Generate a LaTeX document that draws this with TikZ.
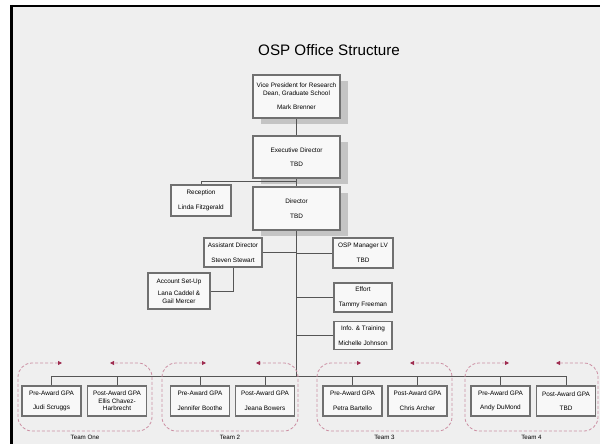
\documentclass[tikz,border=0pt]{standalone}
\usepackage{fontspec}
\newfontfamily\arialf{Liberation Sans}
\usetikzlibrary{arrows.meta,shadows}
\definecolor{bggray}{HTML}{EFEFEF}
\definecolor{boxborder}{HTML}{707070}
\definecolor{boxfill}{HTML}{F8F8F8}
\definecolor{linecol}{HTML}{555555}
\definecolor{shadowgray}{HTML}{C4C4C4}
\definecolor{teampink}{HTML}{CC8FA3}
\definecolor{teamtip}{HTML}{9E2A4E}
\tikzset{
  orgbox/.style={draw=boxborder, line width=1.3pt, fill=boxfill, align=center,
    inner sep=0pt, font=\arialf\fontsize{6.4}{7.6}\selectfont},
  bigbox/.style={orgbox, minimum width=87pt, minimum height=43pt,
    drop shadow={shadow xshift=8pt, shadow yshift=-6pt, fill=shadowgray, opacity=1}},
  smallbox/.style={orgbox, minimum width=59pt, minimum height=30pt},
  conn/.style={draw=linecol, line width=0.8pt},
  teamdash/.style={draw=teampink, line width=0.8pt, dash pattern=on 3pt off 2pt,
    rounded corners=14pt,
    {Triangle[length=4pt,width=4pt,color=teamtip]}-{Triangle[length=4pt,width=4pt,color=teamtip]}},
  teamlabel/.style={font=\arialf\fontsize{6.2}{7}\selectfont, inner sep=0pt}
}
\begin{document}
\begin{tikzpicture}[x=1pt,y=-1pt]
\useasboundingbox (0,0) rectangle (600,444);
\fill[white] (0,0) rectangle (600,444);
\fill[bggray] (12,6) rectangle (600,444);
\draw[black, line width=2.7pt] (11.3,5) -- (11.3,444);
\draw[black, line width=2.5pt] (10,6) -- (600,6);

\node[font=\arialf\fontsize{15.2}{18}\selectfont, inner sep=0pt] (title) at (329,50) {OSP Office Structure};

% top chain
\node[bigbox] (vp) at (296.5,96.5) {Vice President for Research\\Dean, Graduate School\\[7pt]Mark Brenner};
\node[bigbox, minimum height=42pt] (exec) at (296.5,157) {Executive Director\\[7pt]TBD};
\node[bigbox] (dir) at (296.5,208.5) {Director\\[7pt]TBD};

\node[smallbox, minimum width=60pt, minimum height=31pt] (rec) at (201,200.5) {Reception\\[7pt]Linda Fitzgerald};
\node[smallbox, minimum width=58pt, minimum height=29pt] (asst) at (233,252.5) {Assistant Director\\[7pt]Steven Stewart};
\node[smallbox, minimum width=62pt, minimum height=36pt] (acct) at (179,291) {Account Set-Up\\[5pt]Lana Caddel \&\\Gail Mercer};
\node[smallbox, minimum width=60pt] (osp) at (363,253) {OSP Manager LV\\[7pt]TBD};
\node[smallbox, minimum width=58pt, minimum height=29pt] (eff) at (363,297.5) {Effort\\[7pt]Tammy Freeman};
\node[smallbox, minimum width=58pt, minimum height=28pt] (info) at (363,335.5) {Info. \& Training\\[7pt]Michelle Johnson};

% bottom boxes
\node[smallbox] (b1) at (51.5,401) {Pre-Award GPA\\[7pt]Judi Scruggs};
\node[smallbox] (b2) at (117,401) {Post-Award GPA\\Ellis Chavez-\\Harbrecht};
\node[smallbox] (b3) at (200,401) {Pre-Award GPA\\[7pt]Jennifer Boothe};
\node[smallbox] (b4) at (265,401) {Post-Award GPA\\[7pt]Jeana Bowers};
\node[smallbox] (b5) at (352.5,401) {Pre-Award GPA\\[7pt]Petra Bartello};
\node[smallbox] (b6) at (417.5,401) {Post-Award GPA\\[7pt]Chris Archer};
\node[smallbox] (b7) at (500.5,401) {Pre-Award GPA\\[7pt]Andy DuMond};
\node[smallbox] (b8) at (566,401) {Post-Award GPA\\[7pt]TBD};

% connectors
\coordinate (recj) at (296.5,181);
\coordinate (bus) at (296.5,376);
\coordinate (busl) at (51.5,376);
\coordinate (busr) at (566,376);
\draw[conn] (vp.south) -- (exec.north);
\draw[conn] (exec.south) -- (dir.north);
\draw[conn] (rec.north) |- (recj);
\draw[conn] (dir.south) -- (bus);
\draw[conn] (busl) -- (busr);
\draw[conn] (asst.east) -- (asst.east -| dir.south);
\draw[conn] (asst.south) |- (acct.east);
\draw[conn] (osp.west) -- (osp.west -| dir.south);
\draw[conn] (eff.west) -- (eff.west -| dir.south);
\draw[conn] (info.west) -- (info.west -| dir.south);
\foreach \b in {b1,b2,b3,b4,b5,b6,b7,b8}{
  \draw[conn] (\b.north) -- (\b.north |- bus);
}

% teams
\foreach \L/\R/\name/\lab in {18/152/t1/Team One, 162/298/t2/Team 2, 317/452/t3/Team 3, 465/598/t4/Team 4}{
  \draw[teamdash] (\L+44,363) -- (\L,363) -- (\L,431) -- (\R,431) -- (\R,363) -- (\R-42,363);
  \node[teamlabel] (\name) at ({(\L+\R)/2},437) {\lab};
}
\end{tikzpicture}
\end{document}
